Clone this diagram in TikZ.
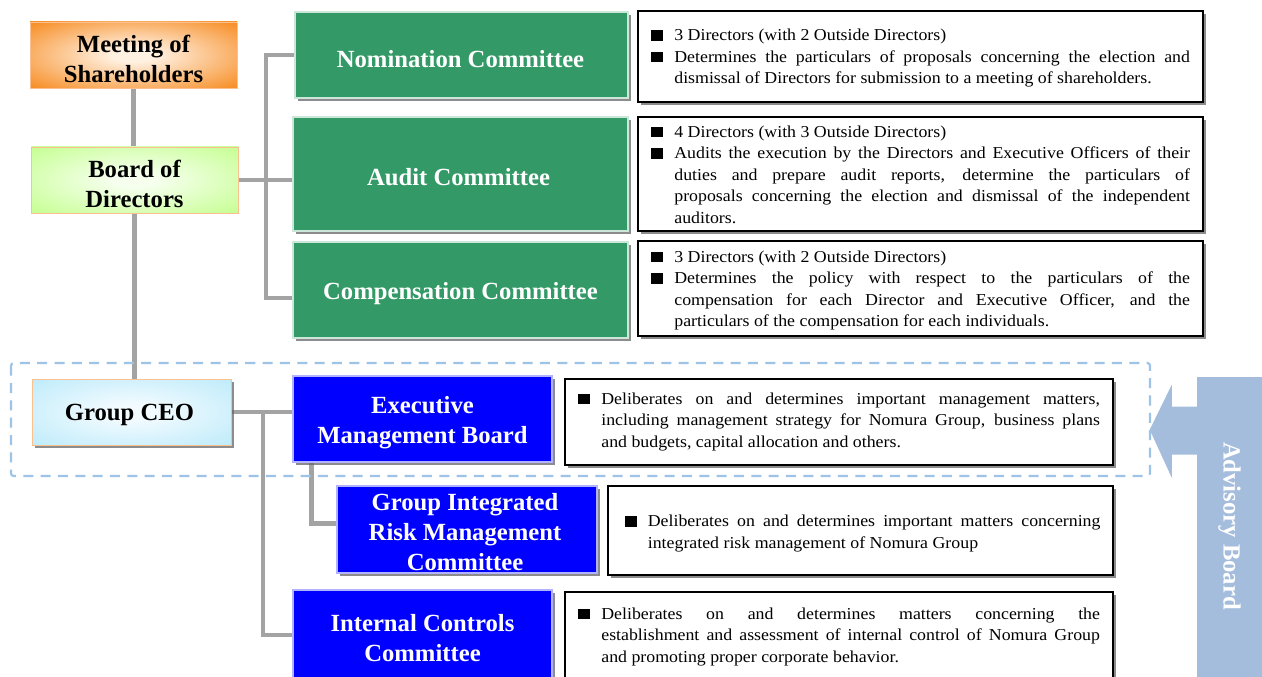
\documentclass[tikz,border=0pt]{standalone}
\usepackage{fontspec}
\setmainfont{Liberation Serif}
\newfontfamily\descfont[FakeStretch=1.07]{Liberation Serif}
\usetikzlibrary{shadows,calc}
\definecolor{meetOut}{HTML}{F7902A}
\definecolor{meetIn}{HTML}{FFF1E2}
\definecolor{bodOut}{HTML}{C8FF96}
\definecolor{bodIn}{HTML}{F6FFEE}
\definecolor{ceoOut}{HTML}{BDEBFA}
\definecolor{ceoIn}{HTML}{F3FBFF}
\definecolor{softBorder}{HTML}{FAC08F}
\definecolor{comGreen}{HTML}{339966}
\definecolor{exBlue}{HTML}{0000FF}
\definecolor{connGray}{HTML}{A3A3A3}
\definecolor{dashBlue}{HTML}{9DC3E6}
\definecolor{advBlue}{HTML}{A5BDDC}
\pgfdeclareradialshading{shMeet}{\pgfpoint{0bp}{0bp}}{color(0bp)=(meetIn); color(5bp)=(meetIn); color(34bp)=(meetOut); color(80bp)=(meetOut)}
\pgfdeclareradialshading{shBod}{\pgfpoint{0bp}{0bp}}{color(0bp)=(bodIn); color(5bp)=(bodIn); color(34bp)=(bodOut); color(80bp)=(bodOut)}
\pgfdeclareradialshading{shCeo}{\pgfpoint{0bp}{0bp}}{color(0bp)=(ceoIn); color(5bp)=(ceoIn); color(36bp)=(ceoOut); color(80bp)=(ceoOut)}
\pgfdeclarelayer{bg}
\pgfsetlayers{bg,main}
\newcommand{\bitem}[1]{\par\noindent\hangindent=17.5pt\hangafter=1\makebox[17.5pt][l]{\rule{9pt}{8pt}}#1\par}
\tikzset{
  hfont/.style={font=\fontsize{18.5}{22.5}\selectfont\bfseries},
  shad/.style={drop shadow={shadow xshift=2.6pt,shadow yshift=-2.6pt,fill=black!60,opacity=0.75}},
  topbox/.style={draw=softBorder,line width=0.6pt,inner sep=0pt},
  combox/.style={fill=comGreen,draw=white!75!comGreen,line width=0.8pt,inner sep=0pt,shad},
  exbox/.style={fill=exBlue,draw=white!70!exBlue,line width=0.8pt,inner sep=0pt,shad},
  darktext/.style={hfont,align=center,text=black,inner sep=0pt},
  lighttext/.style={hfont,align=center,text=white,inner sep=0pt},
  descbox/.style={draw=black,fill=white,line width=1pt,inner sep=0pt,shad},
  desctext/.style={inner sep=0pt,align=justify,font=\descfont\fontsize{12.5}{16.1}\selectfont},
  conn/.style={draw=connGray,line width=3.2pt},
  dashbox/.style={draw=dashBlue,line width=1.6pt,dash pattern=on 7.5pt off 5.5pt,rounded corners=2pt},
}
\begin{document}
\begin{tikzpicture}[x=0.75pt,y=-0.75pt]
\useasboundingbox (0,0) rectangle (1262,677);
\hyphenpenalty=10000
% left column
\node[topbox,shading=shMeet,minimum width=155.25pt,minimum height=49.5pt] (mos) at (133.5,55) {};
\node[darktext] (most) at ($(mos.center)+(0,4)$) {Meeting of\\Shareholders};
\node[topbox,shading=shBod,minimum width=155.25pt,minimum height=49.5pt] (bod) at (134.5,180) {};
\node[darktext] (bodt) at ($(bod.center)+(0,4)$) {Board of\\Directors};
\node[topbox,shading=shCeo,minimum width=149.25pt,minimum height=49.5pt,shad] (ceo) at (131.5,412) {};
\node[darktext] (ceot) at ($(ceo.center)+(-2,3)$) {Group CEO};
% committees
\node[combox,minimum width=249.75pt,minimum height=64.5pt] (nom) at (461.5,55) {};
\node[lighttext] (nomt) at ($(nom.center)+(-1,4)$) {Nomination Committee};
\node[combox,minimum width=251.25pt,minimum height=85.5pt] (aud) at (460.5,174) {};
\node[lighttext] (audt) at ($(aud.center)+(-2,3)$) {Audit Committee};
\node[combox,minimum width=251.25pt,minimum height=72pt] (comp) at (460.5,290) {};
\node[lighttext] (compt) at ($(comp.center)+(0,4)$) {Compensation Committee};
% description boxes
\node[descbox,minimum width=423.75pt,minimum height=68.25pt] (nomd) at (920.5,56.5) {};
\node[descbox,minimum width=423.75pt,minimum height=85.5pt] (audd) at (920.5,174) {};
\node[descbox,minimum width=423.75pt,minimum height=71.25pt] (compd) at (920.5,288.5) {};
\node[descbox,minimum width=411pt,minimum height=64.5pt] (embd) at (839,422) {};
\node[descbox,minimum width=378.75pt,minimum height=66.75pt] (riskd) at (860.5,530.5) {};
\node[descbox,minimum width=411pt,minimum height=66pt] (iccd) at (839,636) {};
% description texts
\node[desctext,text width=404.25pt] (nomdt) at ($(nomd.center)+(0,-3)$) {%
\bitem{3 Directors (with 2 Outside Directors)}
\bitem{Determines the particulars of proposals concerning the election and\linebreak dismissal of Directors for submission to a meeting of shareholders.}};
\node[desctext,text width=404.25pt] (auddt) at ($(audd.center)+(0,-4.5)$) {%
\bitem{4 Directors (with 3 Outside Directors)}
\bitem{Audits the execution by the Directors and Executive Officers of their\linebreak duties and prepare audit reports, determine the particulars of\linebreak proposals concerning the election and dismissal of the independent\linebreak auditors.}};
\node[desctext,text width=404.25pt] (compdt) at ($(compd.center)+(0,-3)$) {%
\bitem{3 Directors (with 2 Outside Directors)}
\bitem{Determines the policy with respect to the particulars of the\linebreak compensation for each Director and Executive Officer, and the\linebreak particulars of the compensation for each individuals.}};
% executive side
\node[exbox,minimum width=194.25pt,minimum height=64.5pt] (emb) at (422.5,419) {};
\node[lighttext] (embt) at ($(emb.center)+(0,4)$) {Executive\\Management Board};
\node[exbox,minimum width=195pt,minimum height=65.25pt] (risk) at (467,529.5) {};
\node[lighttext] (riskt) at ($(risk.center)+(-2,3)$) {Group Integrated\\Risk Management\\Committee};
\node[exbox,minimum width=194.25pt,minimum height=67.5pt] (icc) at (422.5,635) {};
\node[lighttext] (icct) at ($(icc.center)+(0,3)$) {Internal Controls\\Committee};
\node[desctext,text width=391.5pt] (embdt) at ($(embd.center)+(0,-5)$) {%
\bitem{Deliberates on and determines important management matters,\linebreak including management strategy for Nomura Group, business plans\linebreak and budgets, capital allocation and others.}};
\node[desctext,text width=357pt] (riskdt) at ($(riskd.center)+(2,-2)$) {%
\bitem{Deliberates on and determines important matters concerning\linebreak integrated risk management of Nomura Group}};
\node[desctext,text width=391.5pt] (iccdt) at ($(iccd.center)+(0,-4)$) {%
\bitem{Deliberates on and determines matters concerning the\linebreak establishment and assessment of internal control of Nomura Group\linebreak and promoting proper corporate behavior.}};
% advisory board
\node[fill=advBlue,inner sep=0pt,minimum width=48.75pt,minimum height=225pt] (adv) at (1229.5,527) {};
\node[hfont,text=white,rotate=-90] (advt) at ($(adv.center)+(0,-1)$) {Advisory Board};
\begin{scope}[shift={(adv.north west)}]
\fill[advBlue] (1,30) -- (-25,30) -- (-25,8) -- (-47,53) -- (-25,101) -- (-25,78) -- (1,78) -- cycle;
\end{scope}
% dashed group
\draw[dashbox] (11,363) rectangle (1150,476);
% connectors
\coordinate (bx) at (266,0);
\coordinate (cx) at (263,0);
\begin{pgfonlayer}{bg}
\draw[conn] (mos.south) -- (mos.south |- bod.north);
\draw[conn] (bod.south) -- (bod.south |- ceo.north);
\coordinate (cmpIn) at ($(comp.west)+(0,8)$);
\draw[conn] (nom.west) -| (bx |- cmpIn) -- (cmpIn);
\draw[conn] (bod.east) -- (bod.east -| aud.west);
\draw[conn] (ceo.east) -- (ceo.east -| emb.west);
\draw[conn] (ceo.east -| cx) |- (icc.west);
\coordinate (rkIn) at ($(risk.west)+(0,-6)$);
\draw[conn] ($(emb.south west)+(19,0)$) |- (rkIn);
\end{pgfonlayer}
\end{tikzpicture}
\end{document}
